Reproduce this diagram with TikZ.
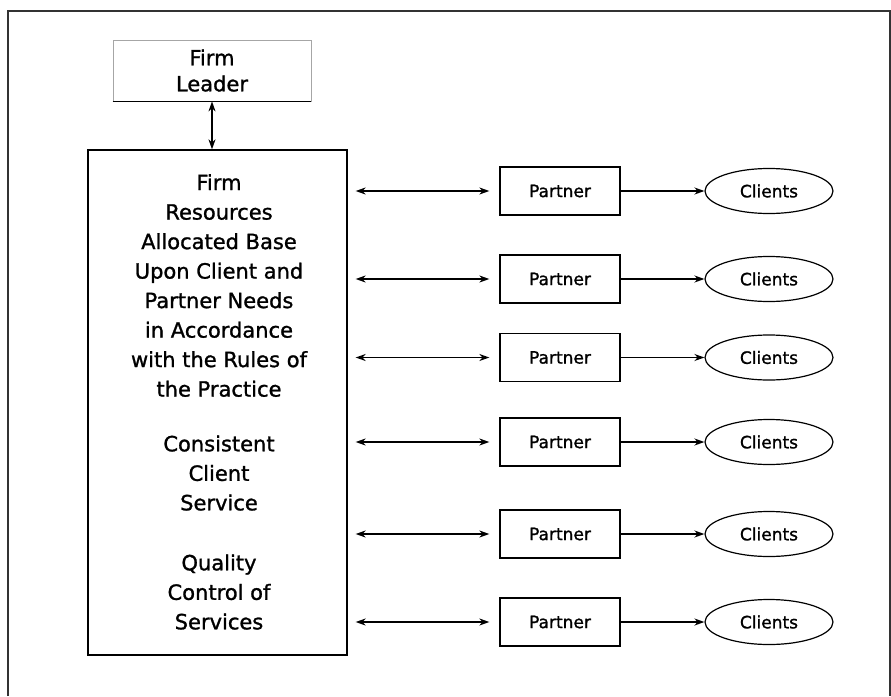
\documentclass[tikz,border=0pt]{standalone}
\usepackage{fontspec}
\setmainfont{DejaVu Sans}[FakeBold=1.2]
\usetikzlibrary{arrows.meta,shapes.geometric}
\begin{document}
\begin{tikzpicture}[x=1pt,y=-1pt,
  partnerbox/.style={draw, line width=1.3pt, minimum width=120pt, minimum height=48pt, inner sep=0pt, font=\fontsize{17}{20}\selectfont},
  clientell/.style={draw, ellipse, line width=1.2pt, minimum width=128pt, minimum height=45pt, inner sep=0pt, font=\fontsize{17}{20}\selectfont},
  link/.style={line width=1.6pt, -{Stealth[length=10pt,width=7pt]}},
  dlink/.style={line width=1.6pt, {Stealth[length=10pt,width=7pt]}-{Stealth[length=10pt,width=7pt]}},
  maintext/.style={align=center, font=\fontsize{21}{29.5}\selectfont, inner sep=0pt}
]
\useasboundingbox (0,0) rectangle (891,696);
\fill[white] (0,0) rectangle (891,696);
\draw[line width=2pt, black!80] (8,696) -- (8,11) -- (890,11) -- (890,696);

% Firm leader
\node[draw=black!35, line width=0.8pt, minimum width=198pt, minimum height=61pt, inner sep=0pt,
      align=center, font=\fontsize{21}{26}\selectfont] (leader) at (212,70.5) {Firm\\Leader};
\draw[line width=1.5pt] (leader.south west) -- (leader.south east);

% main box
\node[draw, line width=1.3pt, minimum width=259pt, minimum height=505pt, inner sep=0pt] (main) at (217.5,402.5) {};
\node[maintext] (t1) at (219,285.5) {Firm\\Resources\\Allocated Base\\Upon Client and\\Partner Needs\\in Accordance\\with the Rules of\\the Practice};
\node[maintext] (t2) at (219,473) {Consistent\\Client\\Service};
\node[maintext] (t3) at (219,592) {Quality\\Control of\\Services};

\draw[dlink] (leader.south) -- (leader.south |- main.north);

% rows
\foreach \i/\y in {1/191,2/279,3/357.5,4/442,5/534,6/622}{
  \node[partnerbox] (p\i) at (560,\y) {Partner};
  \node[clientell] (c\i) at (769,\y) {Clients};
  \draw[dlink, shorten <=8pt, shorten >=10pt] (main.east |- p\i.west) -- (p\i.west);
  \draw[link] (p\i.east) -- (c\i.west);
}
\end{tikzpicture}
\end{document}
